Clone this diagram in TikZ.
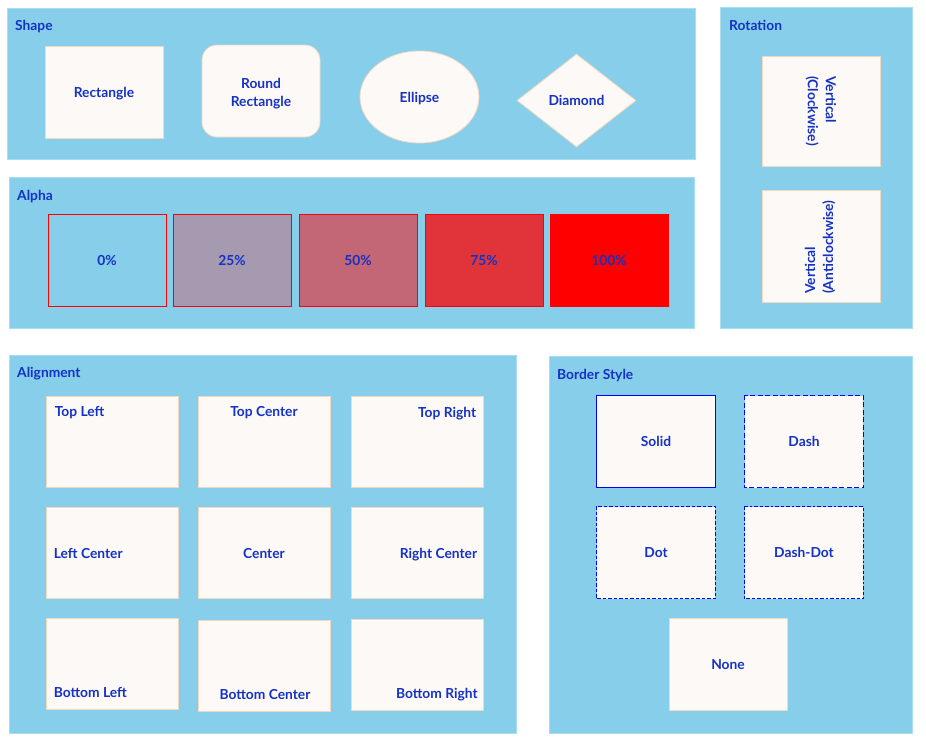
\documentclass[tikz,border=0pt]{standalone}
\usepackage{fontspec}
\setmainfont{Lato}
\usetikzlibrary{shapes.geometric,positioning}
\definecolor{panelblue}{HTML}{87CEEB}
\definecolor{paneledge}{HTML}{A9DDF1}
\definecolor{boxfill}{HTML}{FDF9F6}
\definecolor{boxedge}{HTML}{F3D8C0}
\definecolor{txtblue}{HTML}{1432C4}
\definecolor{lineblue}{RGB}{0,0,255}

\begin{document}
\begin{tikzpicture}[x=1pt,y=-1pt,
    panel/.style={fill=panelblue,draw=paneledge,line width=1pt},
    title/.style={anchor=north west,inner sep=0pt,text=txtblue,font=\bfseries\fontsize{13.8}{18}\selectfont},
    lbl/.style={inner sep=0pt,text=txtblue,font=\bfseries\fontsize{13.8}{18}\selectfont,align=center},
    card/.style={lbl,rectangle,draw=boxedge,fill=boxfill,line width=0.8pt,minimum width=118pt,minimum height=92pt,text depth=0pt},
    alignbox/.style={card,minimum width=132pt,minimum height=91pt},
    alphabox/.style={card,draw=red,fill=red,text opacity=1},
    bordbox/.style={card,draw=none},
    bordline/.style={draw=lineblue,line width=1.1pt}
  ]
  \useasboundingbox (0,0) rectangle (926,748);

  % panels
  \draw[panel] (7,8) rectangle (695,159);
  \draw[panel] (720,7) rectangle (912,328);
  \draw[panel] (9,177) rectangle (694,328);
  \draw[panel] (9,355) rectangle (516,733);
  \draw[panel] (549,356) rectangle (912,733);

  \node[title] (shapetitle) at (15,20) {Shape};
  \node[title] (rottitle) at (729,20) {Rotation};
  \node[title] (alphatitle) at (17,190) {Alpha};
  \node[title] (aligntitle) at (17,367) {Alignment};
  \node[title] (bordertitle) at (557,369) {Border Style};

  % shape
  \node[card] (rect) at (104,92) {Rectangle};
  \node[card,rounded corners=15pt] (rrect) at (261,91) {};
  \node[lbl] (rrtext) at (261,94) {Round\\Rectangle};
  \node[card,ellipse,minimum width=119pt,minimum height=92pt] (ell) at (419.5,97) {Ellipse};
  \node[card,diamond,minimum width=119pt,minimum height=93pt] (diam) at (576.5,100.5) {Diamond};

  % rotation
  \node[card,minimum height=110pt] (cw) at (821,111) {};
  \node[lbl,rotate=-90,align=left] (cwtext) at (821,111) {Vertical\\(Clockwise)};
  \node[card,minimum height=112pt] (acw) at (821,246) {};
  \node[lbl,rotate=90,align=left,anchor=west] (acwtext) at (820,294) {Vertical\\(Anticlockwise)};

  % alpha
  \node[alphabox,fill=none] (a0) at (107,260) {0\%};
  \node[alphabox,fill opacity=0.25] (a25) at (232,260) {25\%};
  \node[alphabox,fill opacity=0.5] (a50) at (358,260) {50\%};
  \node[alphabox,fill opacity=0.75] (a75) at (484,260) {75\%};
  \node[alphabox] (a100) at (609,260) {100\%};

  % alignment
  \node[alignbox] (tl) at (112,441.5) {};
  \node[alignbox] (tc) at (264,441.5) {};
  \node[alignbox] (tr) at (417,441.5) {};
  \node[alignbox] (lc) at (112,552.5) {};
  \node[alignbox] (cc) at (264,552.5) {};
  \node[alignbox] (rc) at (417,552.5) {};
  \node[alignbox] (bl) at (112,663.5) {};
  \node[alignbox] (bc) at (264,665.5) {};
  \node[alignbox] (br) at (417.5,665) {};

  \node[lbl,anchor=north west] (tltext) at ([shift={(9,11)}]tl.north west) {Top Left};
  \node[lbl,anchor=north] (tctext) at ([shift={(0,11)}]tc.north) {Top Center};
  \node[lbl,anchor=north east] (trtext) at ([shift={(-7,11)}]tr.north east) {Top Right};
  \node[lbl,anchor=west,text depth=0pt] (lctext) at ([shift={(8,1)}]lc.west) {Left Center};
  \node[lbl,text depth=0pt] (cctext) at ([shift={(0,1)}]cc) {Center};
  \node[lbl,anchor=east,text depth=0pt] (rctext) at ([shift={(-6,1)}]rc.east) {Right Center};
  \node[lbl,anchor=base west] (bltext) at ([shift={(8,-12)}]bl.south west) {Bottom Left};
  \node[lbl,anchor=base] (bctext) at ([shift={(1,-12)}]bc.south) {Bottom Center};
  \node[lbl,anchor=base east] (brtext) at ([shift={(-6,-12)}]br.south east) {Bottom Right};

  % border style
  \node[bordbox] (solid) at (656,441.5) {Solid};
  \node[bordbox] (dash) at (804,441.5) {Dash};
  \node[bordbox] (dot) at (656,552.5) {Dot};
  \node[bordbox] (dashdot) at (804,552.5) {Dash-Dot};
  \node[card] (none) at (728,664.5) {None};
  \draw[bordline] (solid.north west) rectangle (solid.south east);
  \draw[bordline,dash pattern=on 5pt off 2.5pt] (dash.north west) rectangle (dash.south east);
  \draw[bordline,dash pattern=on 3.5pt off 2pt] (dot.north west) rectangle (dot.south east);
  \draw[bordline,dash pattern=on 4pt off 2pt on 2.5pt off 2pt] (dashdot.north west) rectangle (dashdot.south east);
\end{tikzpicture}
\end{document}
